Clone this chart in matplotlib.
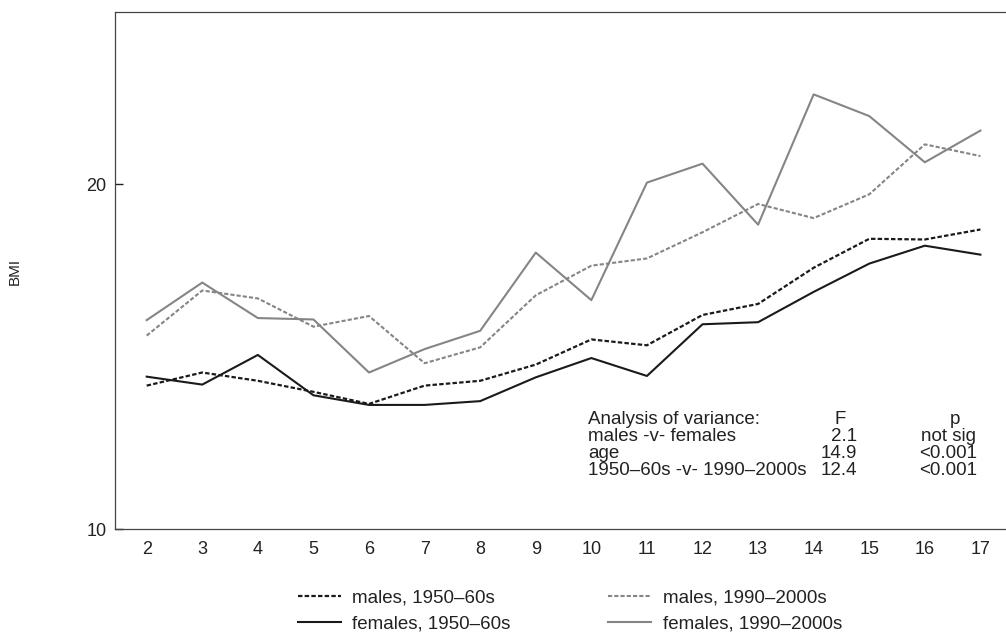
import numpy as np
import matplotlib.pyplot as plt

plt.rcParams['font.family'] = ['Liberation Sans', 'DejaVu Sans']

# age in years
age = np.arange(2, 18)

# mean BMI
males_50s = [14.16, 14.54, 14.30, 13.98, 13.63, 14.16, 14.30, 14.77,
             15.50, 15.33, 16.21, 16.53, 17.58, 18.42, 18.40, 18.69]
females_50s = [14.42, 14.19, 15.05, 13.88, 13.60, 13.60, 13.71, 14.40,
               14.96, 14.44, 15.94, 16.00, 16.88, 17.70, 18.22, 17.96]
males_90s = [15.61, 16.92, 16.69, 15.87, 16.18, 14.81, 15.27, 16.78,
             17.64, 17.85, 18.61, 19.43, 19.02, 19.71, 21.16, 20.82]
females_90s = [16.06, 17.15, 16.12, 16.08, 14.54, 15.22, 15.75, 18.02,
               16.64, 20.05, 20.60, 18.83, 22.61, 21.98, 20.64, 21.56]

# analysis of variance table
anova_rows = ['males -v- females', 'age', '1950\u201360s -v- 1990\u20132000s']
anova_F = ['2.1', '14.9', '12.4']
anova_p = ['not sig', '<0.001', '<0.001']

black = '#1a1a1a'
grey = '#858585'

fig = plt.figure(figsize=(10.06, 6.34), dpi=100)
ax = fig.add_axes([115/1006, 1 - 529/634, 1 - 115/1006, (529 - 12)/634])

l1, = ax.plot(age, males_50s, color=black, lw=1.6, dashes=(2, 1),
              label='males, 1950\u201360s')
l2, = ax.plot(age, females_50s, color=black, lw=1.5,
              label='females, 1950\u201360s')
l3, = ax.plot(age, males_90s, color=grey, lw=1.5, dashes=(2, 1),
              label='males, 1990\u20132000s')
l4, = ax.plot(age, females_90s, color=grey, lw=1.5,
              label='females, 1990\u20132000s')

ax.set_xlim(1.43, 17.46)
ax.set_ylim(10, 25)
ax.set_xticks(age)
ax.set_yticks([10, 20])
ax.tick_params(axis='x', length=0, pad=9, labelsize=13, colors='#222222')
ax.tick_params(axis='y', direction='in', length=6, width=1, pad=6,
               labelsize=13, colors='#222222')
ax.spines['right'].set_visible(False)
for s in ['left', 'bottom', 'top']:
    ax.spines[s].set_color('#444444')
    ax.spines[s].set_linewidth(0.9)

fig.text(15/1006, 1 - 271/634, 'BMI', rotation=90, ha='center', va='center',
         fontsize=11, color='#222222')

# anova text block
fs = 13.5
ax.text(0.531, 0.2126, 'Analysis of variance:', transform=ax.transAxes,
        ha='left', va='center', fontsize=fs, color='#222222')
ax.text(0.814, 0.2126, 'F', transform=ax.transAxes, ha='center', va='center',
        fontsize=fs, color='#222222')
ax.text(0.943, 0.2126, 'p', transform=ax.transAxes, ha='center', va='center',
        fontsize=fs, color='#222222')
row_y = [0.1797, 0.1468, 0.114]
for yy, name, f, p in zip(row_y, anova_rows, anova_F, anova_p):
    ax.text(0.531, yy, name, transform=ax.transAxes, ha='left', va='center',
            fontsize=fs, color='#222222')
    ax.text(0.833, yy, f, transform=ax.transAxes, ha='right', va='center',
            fontsize=fs, color='#222222')
    ax.text(0.935, yy, p, transform=ax.transAxes, ha='center', va='center',
            fontsize=fs, color='#222222')

fig.legend(handles=[l1, l2, l3, l4], ncol=2, loc='center',
           bbox_to_anchor=(570/1006, 1 - 611/634), frameon=False,
           fontsize=13.5, handlelength=2.3, handletextpad=0.6,
           columnspacing=5.2, labelspacing=0.45, labelcolor='#222222')

fig.savefig('out.png', dpi=100)
